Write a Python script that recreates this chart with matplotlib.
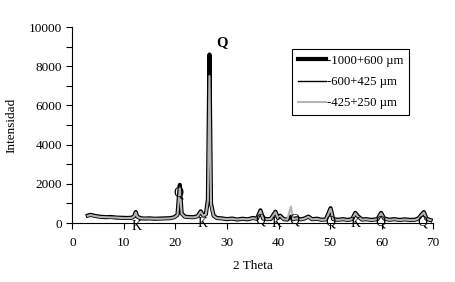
import matplotlib
matplotlib.use("Agg")
import matplotlib.pyplot as plt
from matplotlib.ticker import MultipleLocator

plt.rcParams['font.family'] = ['Liberation Serif', 'DejaVu Serif']

two_theta = [3, 3.5, 4.5, 5.5, 6.5, 7.5, 8.5, 9.5, 10.5, 11.5, 12.0, 12.3, 12.6, 13.2, 14, 15, 16, 17, 18, 19,
             19.8, 20.4, 20.85, 21.2, 21.8, 22.5, 23.5, 24.3, 24.9, 25.4, 25.9, 26.3, 26.6, 26.9, 27.4, 28, 29, 30,
             31, 32, 33, 34, 35, 35.8, 36.5, 37, 37.8, 38.5, 39.4, 39.9, 40.3, 41, 41.7, 42.4, 42.8, 43.5, 44.3,
             45, 45.8, 46.5, 47.5, 48.3, 49.2, 50.1, 50.6, 51.5, 52.5, 53.5, 54.3, 54.9, 55.4, 56.2, 57, 58, 59.2,
             59.9, 60.5, 61.5, 62.5, 63.5, 64.5, 65.5, 66.5, 67.2, 67.8, 68.2, 68.7, 69.5]

s_1000_600 = [380, 420, 360, 320, 300, 310, 280, 270, 260, 270, 350, 560, 330, 250, 230, 240, 220, 230, 240, 250,
              300, 420, 1950, 500, 330, 310, 300, 350, 600, 380, 450, 1200, 8600, 1000, 380, 260, 240, 200,
              230, 180, 220, 190, 260, 220, 650, 230, 200, 210, 580, 260, 380, 200, 180, 330, 200, 250, 190,
              230, 330, 200, 220, 170, 190, 760, 200, 170, 200, 160, 210, 520, 350, 180, 200, 160, 200,
              520, 230, 170, 200, 160, 190, 160, 170, 250, 450, 560, 220, 150]

s_600_425 = [360, 400, 340, 300, 290, 280, 270, 250, 240, 260, 330, 520, 300, 240, 220, 230, 210, 220, 230, 240,
             280, 400, 1700, 460, 310, 300, 280, 330, 560, 360, 420, 1100, 5500, 900, 360, 240, 220, 190,
             210, 170, 200, 180, 240, 210, 600, 220, 190, 200, 540, 240, 350, 190, 170, 300, 190, 230, 180,
             210, 300, 190, 200, 160, 180, 700, 190, 160, 190, 150, 200, 480, 320, 170, 190, 150, 190,
             480, 210, 160, 190, 150, 180, 150, 160, 230, 420, 520, 200, 140]

s_425_250 = [370, 410, 350, 310, 300, 290, 280, 260, 250, 260, 340, 540, 320, 240, 230, 230, 220, 220, 230, 240,
             290, 410, 1800, 480, 320, 300, 290, 340, 580, 370, 440, 1150, 7500, 950, 370, 250, 230, 200,
             220, 180, 210, 190, 250, 210, 620, 220, 190, 210, 560, 250, 360, 190, 180, 850, 190, 240, 180,
             220, 320, 190, 210, 160, 180, 730, 190, 160, 190, 150, 200, 500, 330, 170, 190, 150, 190,
             500, 220, 160, 190, 150, 180, 150, 160, 240, 430, 540, 210, 150]

labels = ['-1000+600 µm', '-600+425 µm', '-425+250 µm']

# phase marks
mark_text = ['K', 'Q', 'K', 'Q', 'K', 'Q', 'Q', 'K', 'Q', 'Q']
mark_x = [12.5, 20.5, 25.3, 36.4, 39.7, 43.0, 50.0, 54.9, 59.7, 67.9]
mark_y = [-150, 1550, -20, 150, -20, 150, 50, -20, 50, 50]

fig = plt.figure(figsize=(4.55, 2.82), dpi=100)
ax = fig.add_axes([0.159, 0.209, 0.793, 0.695])

ax.plot(two_theta, s_1000_600, color='black', lw=3.0, label=labels[0], zorder=2)
ax.plot(two_theta, s_600_425, color='black', lw=1.0, label=labels[1], zorder=3)
ax.plot(two_theta, s_425_250, color='#b4b4b4', lw=1.5, label=labels[2], zorder=4)

for t, x, y in zip(mark_text, mark_x, mark_y):
    ax.text(x, y, t, ha='center', va='center', fontsize=10, color='black', zorder=5, clip_on=False)
ax.text(29.0, 9200, 'Q', ha='center', va='center', fontsize=10.5, fontweight='bold', color='black')

ax.set_xlim(0, 70)
ax.set_ylim(0, 10000)
ax.xaxis.set_major_locator(MultipleLocator(10))
ax.yaxis.set_major_locator(MultipleLocator(2000))
ax.yaxis.set_minor_locator(MultipleLocator(1000))
ax.spines['top'].set_visible(False)
ax.spines['right'].set_visible(False)
ax.tick_params(axis='both', which='both', direction='out', length=4, width=0.8, labelsize=9.5, colors='black')
ax.tick_params(axis='x', pad=6)
ax.set_xlabel('2 Theta', fontsize=9.5, labelpad=8)
ax.set_ylabel('Intensidad', fontsize=9.5, labelpad=8)

leg = ax.legend(loc='upper left', bbox_to_anchor=(0.609, 0.888), fontsize=9.2, frameon=True, fancybox=False,
                edgecolor='black', framealpha=1, handlelength=2.2, labelspacing=0.72, borderpad=0.45,
                handletextpad=0.1, borderaxespad=0)
leg.get_frame().set_linewidth(0.8)

fig.savefig('out.png', dpi=100)
